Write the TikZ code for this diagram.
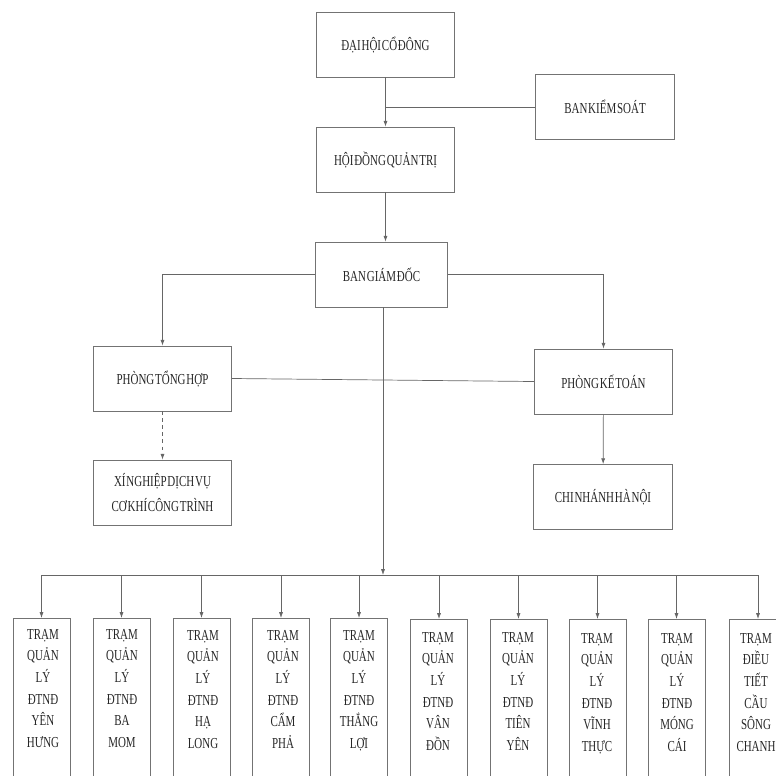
\documentclass[tikz,border=0pt]{standalone}
\usepackage{fontspec}
\setmainfont{Liberation Serif}[FakeStretch=0.72,WordSpace=0.3]
\usepackage{xcolor}
\usetikzlibrary{arrows.meta}
\usetikzlibrary{positioning}
\definecolor{boxgray}{gray}{0.45}
\definecolor{linegray}{gray}{0.4}
\tikzset{
	every node/.style={font=\fontsize{13}{18.5}\selectfont, text=black!85},
	box/.style={draw=boxgray, line width=0.6pt, minimum width=4.15cm, minimum height=1.95cm, inner sep=0pt, align=center},
	tram/.style={draw=boxgray, line width=0.6pt, minimum width=1.71cm, minimum height=5.5cm, inner sep=0pt},
	tramtext/.style={anchor=north, align=center, inner sep=0pt},
	link/.style={draw=linegray, line width=0.6pt},
	arr/.style={link, -{Latex[length=5pt,width=3.5pt]}},
}

\begin{document}
\begin{tikzpicture}[x=0.03cm, y=-0.03cm]
		\clip (0,0) rectangle (776,776);
		\node[box] (dhcd) at (385.5,44.5) {ĐẠI HỘI CỔ ĐÔNG};
		\node[box] (bks) at (605,107) {BAN KIỂM SOÁT};
		\node[box] (hdqt) at (385.5,159.5) {HỘI ĐỒNG QUẢN TRỊ};
		\node[box, minimum width=3.95cm] (bgd) at (381.5,274.5) {BAN GIÁM ĐỐC};
		\node[box] (pth) at (162.5,378.5) {PHÒNG TỔNG HỢP};
		\node[box] (pkt) at (603.5,381.5) {PHÒNG KẾ TOÁN};
		\node[box, font=\fontsize{13}{22}\selectfont] (xn) at (162.5,492.5) {XÍ NGHIỆP DỊCH VỤ\\CƠ KHÍ CÔNG TRÌNH};
		\node[box] (cn) at (603,497) {CHI NHÁNH HÀ NỘI};
		\coordinate (bus) at (383,575);
		\node[tram] (t1) at (41.5,710) {};
		\node[tram] (t2) at (121.5,710) {};
		\node[tram] (t3) at (201.5,710) {};
		\node[tram] (t4) at (281,710) {};
		\node[tram] (t5) at (359,710) {};
		\node[tram] (t6) at (439,711) {};
		\node[tram] (t7) at (518.5,711) {};
		\node[tram] (t8) at (597.5,711) {};
		\node[tram] (t9) at (676.5,711) {};
		\node[tram] (t10) at (758,711) {};
		\node[tramtext] (l1) at (43,629) {TRẠM\\QUẢN\\LÝ\\ĐTNĐ\\YÊN\\HƯNG};
		\node[tramtext] (l2) at (122,629) {TRẠM\\QUẢN\\LÝ\\ĐTNĐ\\BA\\MOM};
		\node[tramtext] (l3) at (203,630) {TRẠM\\QUẢN\\LÝ\\ĐTNĐ\\HẠ\\LONG};
		\node[tramtext] (l4) at (283,630) {TRẠM\\QUẢN\\LÝ\\ĐTNĐ\\CẨM\\PHẢ};
		\node[tramtext] (l5) at (359,630) {TRẠM\\QUẢN\\LÝ\\ĐTNĐ\\THẮNG\\LỢI};
		\node[tramtext] (l6) at (438,632) {TRẠM\\QUẢN\\LÝ\\ĐTNĐ\\VÂN\\ĐỒN};
		\node[tramtext] (l7) at (518,632) {TRẠM\\QUẢN\\LÝ\\ĐTNĐ\\TIÊN\\YÊN};
		\node[tramtext] (l8) at (597,633) {TRẠM\\QUẢN\\LÝ\\ĐTNĐ\\VĨNH\\THỰC};
		\node[tramtext] (l9) at (677,633) {TRẠM\\QUẢN\\LÝ\\ĐTNĐ\\MÓNG\\CÁI};
		\node[tramtext] (l10) at (756,633) {TRẠM\\ĐIỀU\\TIẾT\\CẦU\\SÔNG\\CHANH};
		\draw[arr] (dhcd) -- (hdqt);
		\draw[link] (bks.west) -- (bks.west -| dhcd.south);
		\draw[arr] (hdqt.south) -- (hdqt.south |- bgd.north);
		\draw[arr] (bgd.west) -| (pth.north);
		\draw[arr] (bgd.east) -| (pkt.north);
		\draw[link] (pth.east) -- (pkt.west);
		\draw[arr, dashed] (pth) -- (xn);
		\draw[arr] (pkt) -- (cn);
		\draw[arr] (bgd.south -| bus) -- (bus);
		\draw[link] (bus -| t1.north) -- (bus -| t10.north);
		\draw[arr] (bus -| t1.north) -- (t1.north);
		\draw[arr] (bus -| t2.north) -- (t2.north);
		\draw[arr] (bus -| t3.north) -- (t3.north);
		\draw[arr] (bus -| t4.north) -- (t4.north);
		\draw[arr] (bus -| t5.north) -- (t5.north);
		\draw[arr] (bus -| t6.north) -- (t6.north);
		\draw[arr] (bus -| t7.north) -- (t7.north);
		\draw[arr] (bus -| t8.north) -- (t8.north);
		\draw[arr] (bus -| t9.north) -- (t9.north);
		\draw[arr] (bus -| t10.north) -- (t10.north);
	\end{tikzpicture}
\end{document}
